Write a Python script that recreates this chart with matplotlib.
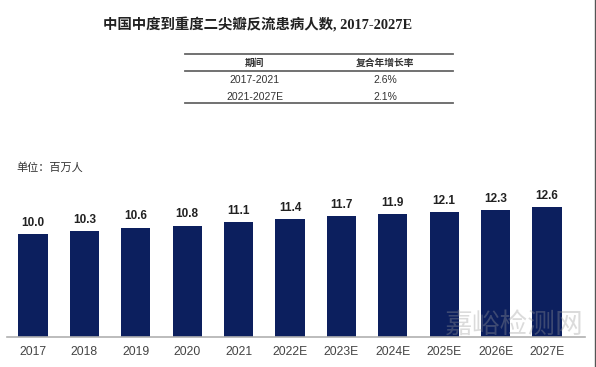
import matplotlib.pyplot as plt
from matplotlib.lines import Line2D

# --- 数据 ---
years = ['2017', '2018', '2019', '2020', '2021', '2022E', '2023E', '2024E', '2025E', '2026E', '2027E']
patients = [10.0, 10.3, 10.6, 10.8, 11.1, 11.4, 11.7, 11.9, 12.1, 12.3, 12.6]
periods = ['2017-2021', '2021-2027E']
cagr = ['2.6%', '2.1%']

W, H = 596, 367
CJK = ['Noto Sans CJK SC', 'DejaVu Sans']
SANS = ['Liberation Sans', 'Noto Sans CJK SC']


def fx(x):
    return x / W


def fy(y):
    return 1 - y / H


fig = plt.figure(figsize=(W / 100, H / 100), dpi=100)

# --- 柱状图 ---
ax = fig.add_axes([fx(7), fy(336.5), fx(585) - fx(7), 143.8 / H])
xs = range(len(years))
ax.bar(xs, patients, width=0.57, color='#0c1f5e', zorder=2)
for x, v in zip(xs, patients):
    ax.text(x, v + 0.5, f'{v:.1f}', ha='center', va='bottom', fontsize=8.5,
            fontweight='bold', color='#222222', family=SANS)
ax.set_xlim(-0.506, 10.74)
ax.set_ylim(0, 14)
ax.set_xticks(list(xs))
ax.set_xticklabels(years, fontsize=8.7, color='#444444', family=SANS)
ax.tick_params(axis='x', length=0, pad=7)
ax.set_yticks([])
for s in ['top', 'right', 'left']:
    ax.spines[s].set_visible(False)
ax.spines['bottom'].set_color('#b0b0b0')
ax.spines['bottom'].set_linewidth(1.2)

# --- 标题 ---
fig.text(fx(258), fy(25), '中国中度到重度二尖瓣反流患病人数, 2017-2027E', ha='center', va='center',
         fontsize=10.4, fontweight='bold', color='#222222',
         family=['Liberation Serif', 'Noto Sans CJK SC'])

# --- 复合年增长率表 ---
for y in [53.5, 70.5, 103]:
    fig.add_artist(Line2D([fx(185), fx(453)], [fy(y), fy(y)], color='#666666', lw=1.3,
                          transform=fig.transFigure))
fig.text(fx(255), fy(63), '期间', ha='center', va='center', fontsize=7, fontweight='bold',
         color='#333333', family=CJK)
fig.text(fx(385), fy(63), '复合年增长率', ha='center', va='center', fontsize=7, fontweight='bold',
         color='#333333', family=CJK)
for i, (p, c) in enumerate(zip(periods, cagr)):
    yy = 80 + i * 17
    fig.text(fx(255), fy(yy), p, ha='center', va='center', fontsize=7.5, color='#333333', family=SANS)
    fig.text(fx(385), fy(yy), c, ha='center', va='center', fontsize=7.5, color='#333333', family=SANS)

# --- 单位 ---
fig.text(fx(16), fy(168), '单位：百万人', ha='left', va='center', fontsize=8, color='#333333', family=CJK)

# --- 水印 ---
fig.text(fx(514), fy(325), '嘉峪检测网', ha='center', va='center', fontsize=20, color='#999999',
         alpha=0.35, family=CJK)

# 右侧边框
fig.add_artist(Line2D([fx(594.5), fx(594.5)], [0, 1], color='#555555', lw=1, transform=fig.transFigure))

fig.savefig('out.png', dpi=100, facecolor='white')
